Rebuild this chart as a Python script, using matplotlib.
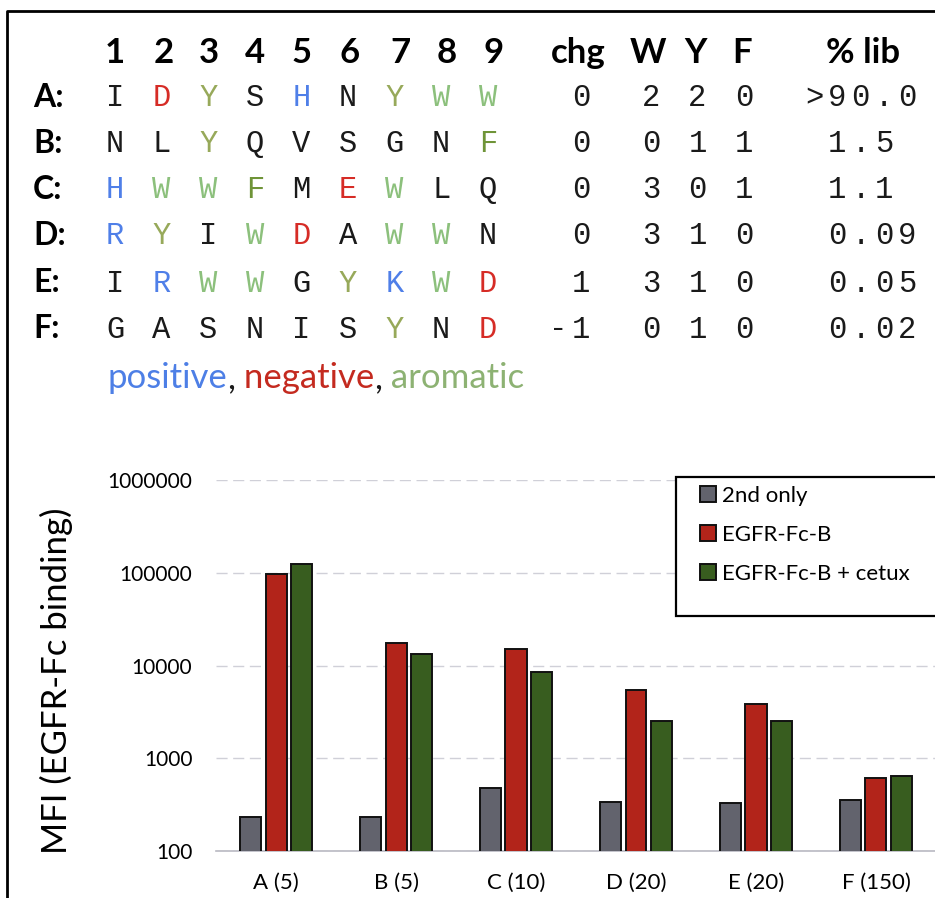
import matplotlib.pyplot as plt
import numpy as np
from matplotlib.lines import Line2D
from matplotlib.patches import Rectangle
from matplotlib.text import Annotation

W_PX, H_PX = 935, 898

# sequence table
positions = ['1', '2', '3', '4', '5', '6', '7', '8', '9']
clones = ['A', 'B', 'C', 'D', 'E', 'F']
sequences = [
    'IDYSHNYWW',
    'NLYQVSGNF',
    'HWWFMEWLQ',
    'RYIWDAWWN',
    'IRWWGYKWD',
    'GASNISYND',
]
charge = ['0', '0', '0', '0', '1', '-1']
n_trp = ['2', '0', '3', '3', '3', '0']
n_tyr = ['2', '1', '0', '1', '1', '1']
n_phe = ['0', '1', '1', '0', '0', '0']
pct_lib = ['>90.0', '1.5', '1.1', '0.09', '0.05', '0.02']

# binding data (MFI), by clone
groups = ['A (5)', 'B (5)', 'C (10)', 'D (20)', 'E (20)', 'F (150)']
second_only = [233, 233, 482, 334, 327, 355]
egfr_fc_b = [96000, 17400, 14900, 5460, 3850, 617]
egfr_fc_b_cetux = [124000, 13200, 8600, 2540, 2540, 636]
series_labels = ['2nd only', 'EGFR-Fc-B', 'EGFR-Fc-B + cetux']

residue_colors = {
    'H': '#4f7fe8', 'R': '#4f7fe8', 'K': '#4f7fe8',
    'D': '#d62c26', 'E': '#d62c26',
    'W': '#8cc07c', 'Y': '#97a95a', 'F': '#6f9438',
}
bar_colors = ['#62636d', '#b2241a', '#385d1f']

MONO = 'Liberation Mono'
SANS = 'Lato'


def px(x, y):
    # pixel position (from top-left) -> figure fraction
    return x / W_PX, 1 - y / H_PX


fig = plt.figure(figsize=(9.35, 8.98), dpi=100)

# outer frame (left and top edges)
fig.add_artist(Line2D([7 / W_PX, 7 / W_PX, 1.0], [0.0, 1 - 11 / H_PX, 1 - 11 / H_PX],
                      transform=fig.transFigure, color='black', lw=2))

# column headers
head_x = [115, 164, 209, 255, 302, 350, 400, 447, 494]
for x, lab in zip(head_x, positions):
    fig.text(*px(x, 50), lab, ha='center', va='center_baseline',
             fontsize=25, fontweight='bold', family=SANS)
for x, lab in [(578, 'chg'), (648, 'W'), (695, 'Y'), (742, 'F'), (863, '% lib')]:
    fig.text(*px(x, 50), lab, ha='center', va='center_baseline',
             fontsize=25, fontweight='bold', family=SANS)

# rows: residues and counts on a fixed character grid
x0, cw = 115, 23.3
row_y = [95, 141, 187, 233, 280, 326]


def put_chars(s, k0, y, color='#1a1a1a'):
    for i, ch in enumerate(s):
        fig.text(*px(x0 + (k0 + i) * cw, y), ch, ha='center', va='center_baseline',
                 fontsize=22, family=MONO, color=color)


for r, y in enumerate(row_y):
    fig.text(*px(33, y), clones[r] + ':', ha='left', va='center_baseline',
             fontsize=23, fontweight='bold', family=SANS)
    for i, aa in enumerate(sequences[r]):
        put_chars(aa, 2 * i, y, residue_colors.get(aa, '#1a1a1a'))
    put_chars(charge[r], 21 - len(charge[r]), y)
    put_chars(n_trp[r], 23, y)
    put_chars(n_tyr[r], 25, y)
    put_chars(n_phe[r], 27, y)
    put_chars(pct_lib[r], 30 if pct_lib[r].startswith('>') else 31, y)

# colour key under the table, each word chained after the previous one
prev = fig.text(*px(107, 375), 'positive', ha='left', va='center_baseline',
                fontsize=25, family=SANS, color='#4d7fe6')
for word, col in [(',', '#1a1a1a'), (' negative', '#c42a1f'), (',', '#1a1a1a'),
                  (' aromatic', '#8db273')]:
    a = Annotation(word, xy=(1, 0), xycoords=prev, ha='left', va='bottom',
                   fontsize=25, family=SANS, color=col)
    fig.add_artist(a)
    prev = a

# bar chart
ax = fig.add_axes([216 / W_PX, 1 - 851 / H_PX, 720 / W_PX, (851 - 480) / H_PX])
x = np.arange(len(groups))
width = 0.175
step = 0.2125
handles = []
for j, (vals, col) in enumerate(zip([second_only, egfr_fc_b, egfr_fc_b_cetux], bar_colors)):
    b = ax.bar(x + (j - 1) * step, vals, width, color=col, edgecolor='#111111',
               linewidth=1.4, label=series_labels[j], zorder=3)
    handles.append(b)

ax.set_yscale('log')
ax.set_ylim(100, 1e6)
ax.set_xlim(-0.5, len(groups) - 0.5)
ax.set_yticks([100, 1000, 10000, 100000, 1000000])
ax.set_yticklabels(['100', '1000', '10000', '100000', '1000000'])
ax.yaxis.set_minor_locator(plt.NullLocator())
ax.set_xticks(x)
ax.set_xticklabels(groups)
for lab in ax.get_yticklabels():
    lab.set_family(SANS)
    lab.set_fontsize(15)
for lab in ax.get_xticklabels():
    lab.set_family(SANS)
    lab.set_fontsize(16)
ax.tick_params(axis='both', length=0)
ax.tick_params(axis='y', pad=17)
ax.tick_params(axis='x', pad=16)
ax.grid(axis='y', color='#d0d0d8', linestyle=(0, (8, 4)), linewidth=1, zorder=0)
for side in ['top', 'right', 'left']:
    ax.spines[side].set_visible(False)
ax.spines['bottom'].set_color('#b9b9c2')
ax.spines['bottom'].set_linewidth(1.2)

fig.text(*px(56, 681), 'MFI (EGFR-Fc binding)', rotation=90, ha='center', va='center',
         fontsize=25, family=SANS)

# legend box
fig.add_artist(Rectangle(px(676, 616), 270 / W_PX, (616 - 477) / H_PX,
                         transform=fig.transFigure, facecolor='white',
                         edgecolor='black', lw=1.6, zorder=5))
leg = fig.legend(handles=handles, loc='upper left', bbox_to_anchor=px(700, 486),
                 frameon=False, borderpad=0, borderaxespad=0, handlelength=0.7,
                 handleheight=0.7, handletextpad=0.3, labelspacing=0.85,
                 prop={'family': SANS, 'size': 16})
leg.set_zorder(6)

fig.savefig('out.png', dpi=100)
